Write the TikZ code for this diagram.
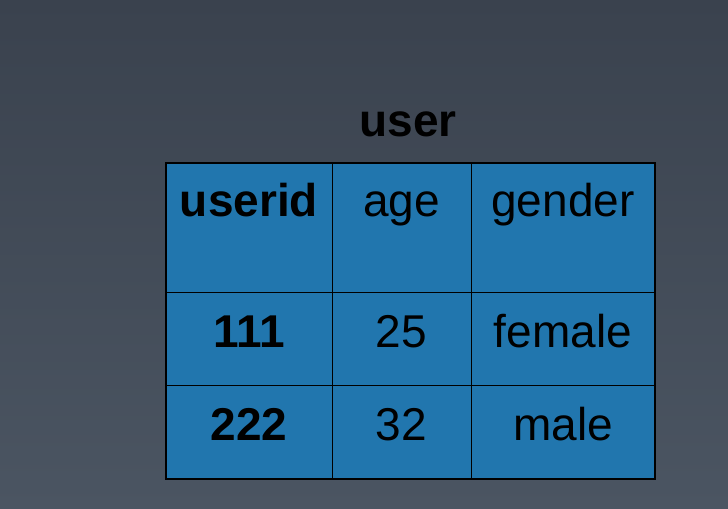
\documentclass[tikz,border=0pt]{standalone}
\usepackage{fontspec}
\setmainfont{Liberation Sans}
\definecolor{bgtop}{HTML}{3A424E}
\definecolor{bgbot}{HTML}{4B5562}
\definecolor{cellblue}{HTML}{2176AE}
\newcommand{\tablefont}{\fontsize{46bp}{50bp}\selectfont}
\tikzset{cell/.style={anchor=base, inner sep=0pt, font=\tablefont}}
\begin{document}
\begin{tikzpicture}[x=1bp, y=-1bp]
\shade[top color=bgtop, bottom color=bgbot] (0,0) rectangle (728,509);
\useasboundingbox (0,0) rectangle (728,509);
\node[cell, font=\tablefont\bfseries] (title) at (408,137) {user};
\fill[cellblue] (166,163) rectangle (655,479);
\draw[black, thin] (332,163) -- (332,479);
\draw[black, thin] (471,163) -- (471,479);
\draw[black, thin] (166,292) -- (655,292);
\draw[black, thin] (166,385) -- (655,385);
\draw[black, line width=2.2bp] (166,163) rectangle (655,479);
\node[cell, font=\tablefont\bfseries] (userid) at (249,217) {userid};
\node[cell] (age) at (401.5,217) {age};
\node[cell] (gender) at (563,217) {gender};
\node[cell, font=\tablefont\bfseries] (id1) at (249,347) {111};
\node[cell] (age1) at (401.5,347) {25};
\node[cell] (gender1) at (563,347) {female};
\node[cell, font=\tablefont\bfseries] (id2) at (249,440) {222};
\node[cell] (age2) at (401.5,440) {32};
\node[cell] (gender2) at (563,440) {male};
\end{tikzpicture}
\end{document}
